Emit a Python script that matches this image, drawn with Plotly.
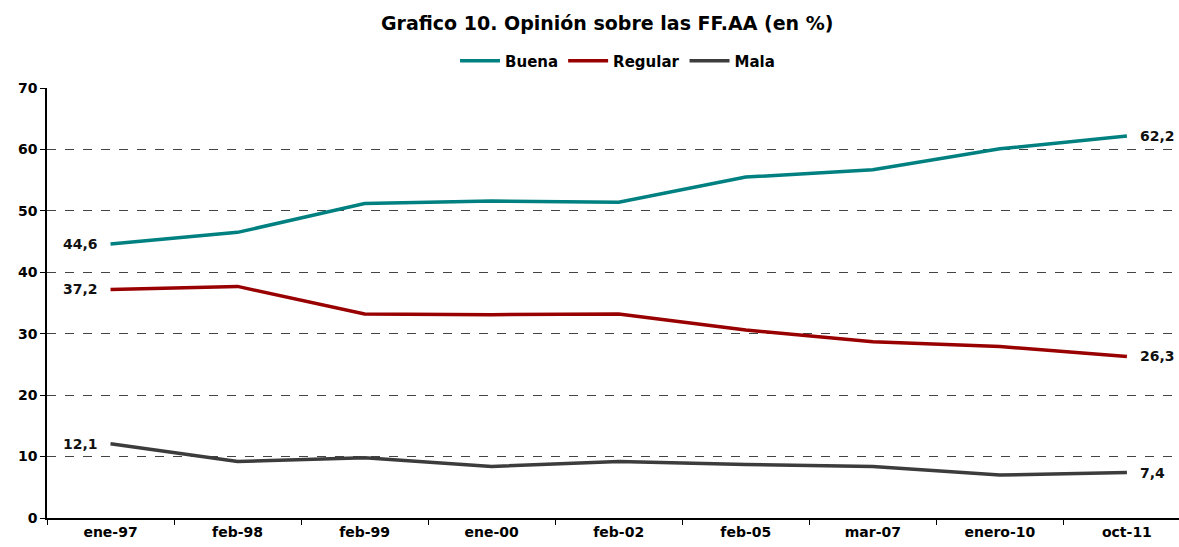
import plotly.graph_objects as go

categories = ["ene-97", "feb-98", "feb-99", "ene-00", "feb-02", "feb-05", "mar-07", "enero-10", "oct-11"]
buena = [44.6, 46.5, 51.2, 51.6, 51.4, 55.5, 56.7, 60.1, 62.2]
regular = [37.2, 37.7, 33.2, 33.1, 33.2, 30.6, 28.7, 27.9, 26.3]
mala = [12.1, 9.2, 9.8, 8.4, 9.2, 8.7, 8.4, 7.0, 7.4]
y_ticks = [0, 10, 20, 30, 40, 50, 60, 70]

FONT = "DejaVu Sans, Liberation Sans, Arial, sans-serif"

series = [
    ("Buena", buena, "#008080"),
    ("Regular", regular, "#990000"),
    ("Mala", mala, "#3c3c3c"),
]

fig = go.Figure()
annotations = []
for name, vals, color in series:
    fig.add_trace(
        go.Scatter(
            x=categories,
            y=vals,
            name=name,
            mode="lines",
            line=dict(color=color, width=3.5),
        )
    )
    # etiquetas al inicio y al final de cada serie
    for idx, anchor, shift in [(0, "right", -11), (-1, "left", 11)]:
        annotations.append(
            dict(
                x=categories[idx],
                y=vals[idx],
                text=f"{vals[idx]:.1f}".replace(".", ","),
                showarrow=False,
                xanchor=anchor,
                xshift=shift,
                font=dict(family=FONT, size=14, color="#111", weight="bold"),
            )
        )

fig.update_layout(
    width=1179,
    height=547,
    title=dict(
        text="Grafico 10. Opinión sobre las FF.AA (en %)",
        x=0.515,
        xanchor="center",
        y=0.958,
        yanchor="middle",
        font=dict(family=FONT, size=19, color="#000", weight="bold"),
    ),
    legend=dict(
        orientation="h",
        x=0.504,
        xanchor="center",
        y=1.063,
        yanchor="middle",
        font=dict(family=FONT, size=15, color="#000", weight="bold"),
        itemwidth=40,
        tracegroupgap=0,
    ),
    annotations=annotations,
    margin=dict(l=47, r=0, t=88, b=29),
    plot_bgcolor="white",
    paper_bgcolor="white",
    showlegend=True,
)

fig.update_xaxes(
    range=[-0.5, 8.41],
    showline=True,
    linecolor="#000",
    linewidth=1.5,
    ticks="outside",
    tickson="boundaries",
    ticklen=5,
    tickcolor="#000",
    showgrid=False,
    tickfont=dict(family=FONT, size=14, color="#000", weight="bold"),
)

fig.update_yaxes(
    range=[0, 70],
    tickvals=y_ticks,
    showline=True,
    linecolor="#000",
    linewidth=1.5,
    ticks="outside",
    ticklen=5,
    tickcolor="#000",
    showgrid=True,
    gridcolor="#444",
    gridwidth=1,
    griddash="dash",
    zeroline=False,
    tickfont=dict(family=FONT, size=14, color="#000", weight="bold"),
)

fig.write_html(
    "out.html",
    config={"displayModeBar": False},
    post_script="document.body.style.margin='0';",
)
